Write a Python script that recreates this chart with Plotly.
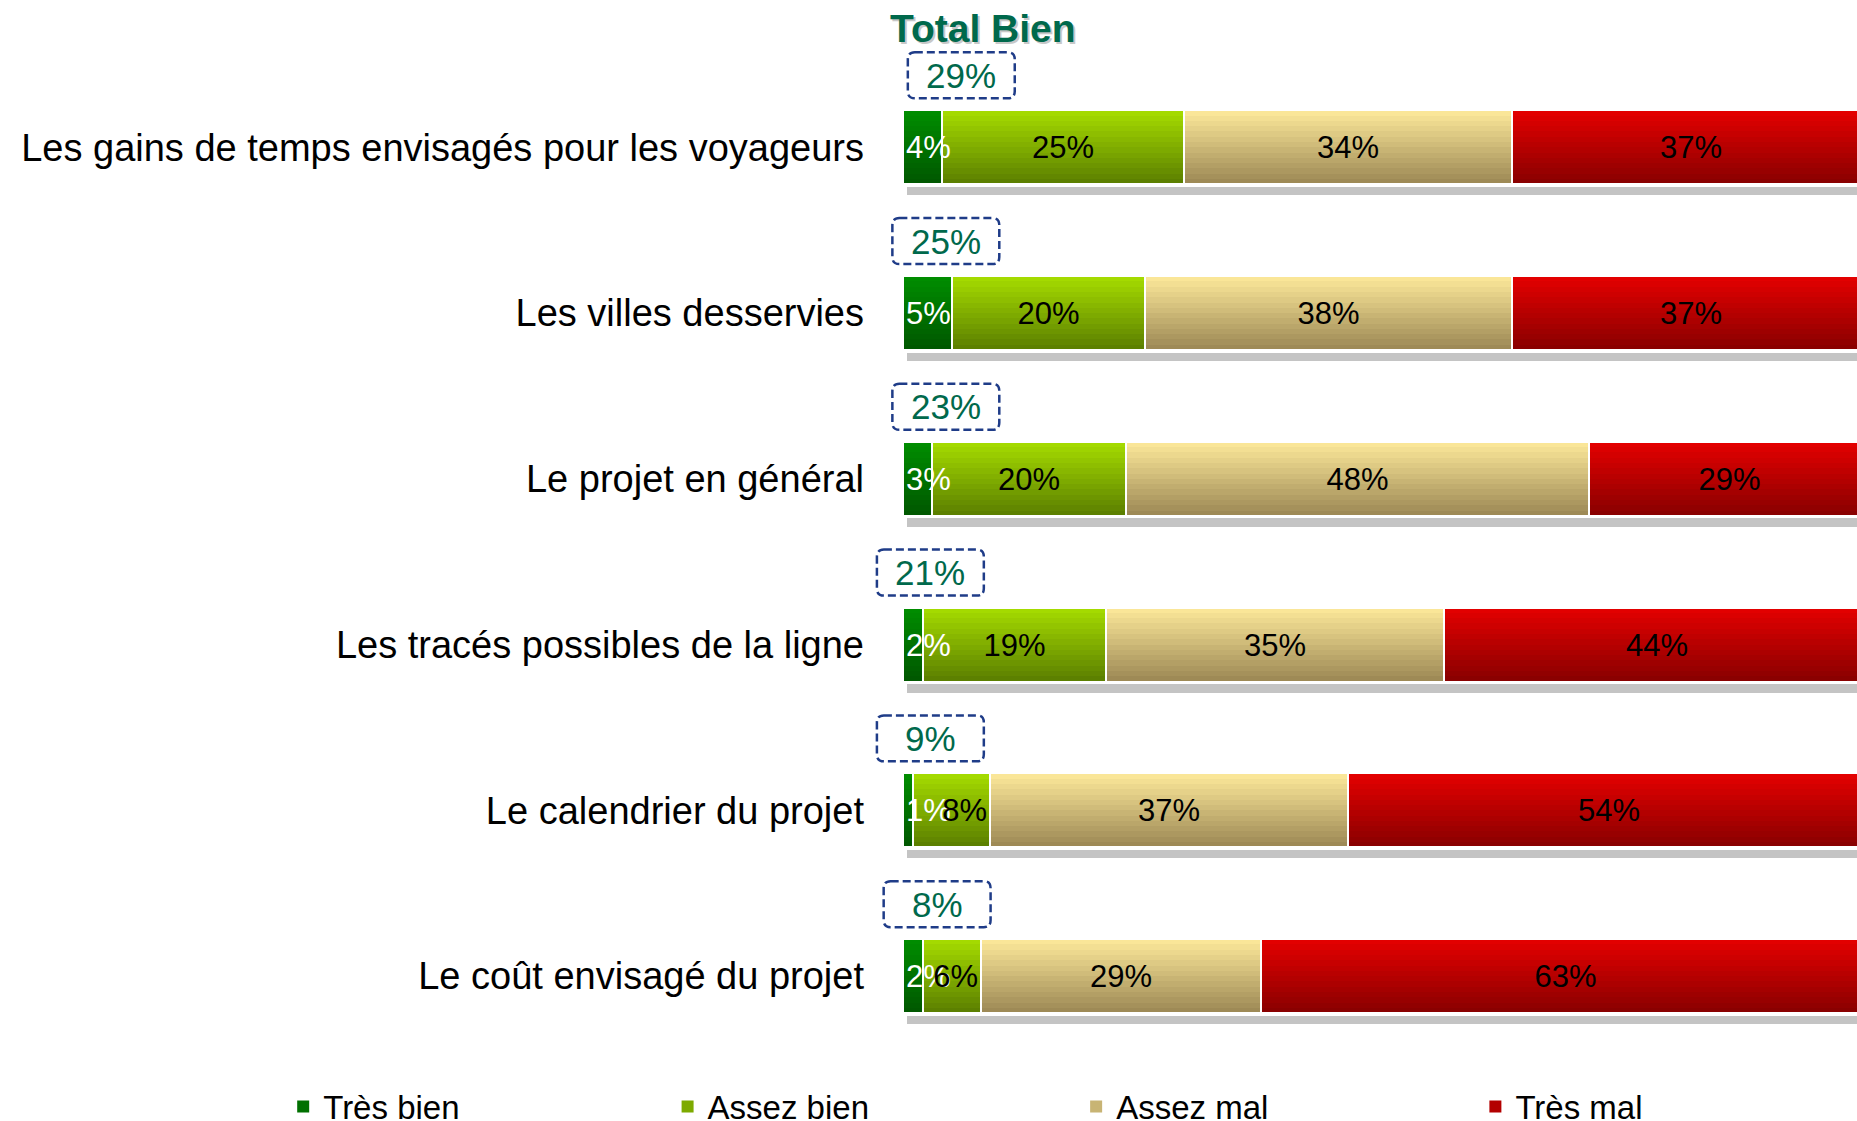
import plotly.graph_objects as go

categories = [
    "Les gains de temps envisagés pour les voyageurs",
    "Les villes desservies",
    "Le projet en général",
    "Les tracés possibles de la ligne",
    "Le calendrier du projet",
    "Le coût envisagé du projet",
]
series_names = ["Très bien", "Assez bien", "Assez mal", "Très mal"]
tres_bien = [4, 5, 3, 2, 1, 2]
assez_bien = [25, 20, 20, 19, 8, 6]
assez_mal = [34, 38, 48, 35, 37, 29]
tres_mal = [37, 37, 29, 44, 54, 63]
total_bien = [29, 25, 23, 21, 9, 8]

# style: gradient (top colour, bottom colour) and label colour per series
grad_top = [(0, 140, 0), (164, 218, 0), (250, 230, 152), (226, 0, 0)]
grad_bot = [(0, 88, 0), (92, 128, 0), (158, 138, 86), (138, 0, 0)]
label_col = ["white", "black", "black", "black"]
box_x = [6.0, 4.4, 4.4, 2.8, 2.8, 3.5]   # x position of the "Total Bien" boxes
legend_x = [0.1525, 0.3595, 0.5795, 0.7945]

BAR_W = 0.446
N_STRIPS = 14
FONT = "Liberation Sans"
PX_Y = 165.8   # pixels per category row
PX_X = 9.67    # pixels per percent
X_RANGE = [-5, 98.7]
Y_RANGE = [5.5, -0.75]
BAR_LEFT = 903  # pixel where 0 % sits


def mix(c1, c2, t):
    return "rgb(%d,%d,%d)" % tuple(round(a + (b - a) * t) for a, b in zip(c1, c2))


fig = go.Figure()

# grey shadow under each bar
fig.add_trace(go.Bar(
    y=categories, x=[100] * len(categories), base=0.4, orientation="h",
    width=0.05, offset=BAR_W / 2 + 0.016,
    marker=dict(color="#c4c4c4", line=dict(width=0)),
    showlegend=False, hoverinfo="skip",
))

values = [tres_bien, assez_bien, assez_mal, tres_mal]
bases = []
run = [0] * len(categories)
for vals in values:
    bases.append(run[:])
    run = [r + v for r, v in zip(run, vals)]

step = BAR_W / N_STRIPS
for s, vals in enumerate(values):
    leg = "legend" if s == 0 else "legend%d" % (s + 1)
    # gradient made of strips, each one running from its top to the bar bottom
    for k in range(N_STRIPS):
        t = k / (N_STRIPS - 1)
        fig.add_trace(go.Bar(
            y=categories, x=vals, base=bases[s], orientation="h",
            width=BAR_W - k * step, offset=-BAR_W / 2 + k * step,
            marker=dict(color=mix(grad_top[s], grad_bot[s], t), line=dict(width=0)),
            name=series_names[s], legendgroup=series_names[s], legend=leg,
            showlegend=(k == N_STRIPS // 2), hoverinfo="skip",
        ))

# outlines + labels (narrow "Assez bien" labels sit at the segment end)
for s, vals in enumerate(values):
    groups = [("start" if s == 0 else "middle", [True] * len(vals))]
    if s == 1:
        groups = [("middle", [v >= 10 for v in vals]), ("end", [v < 10 for v in vals])]
    for anchor, keep in groups:
        fig.add_trace(go.Bar(
            y=categories, x=vals, base=bases[s], orientation="h",
            width=BAR_W, offset=-BAR_W / 2,
            marker=dict(color="rgba(0,0,0,0)", line=dict(color="white", width=2)),
            text=["%d%%" % v if kp else "" for v, kp in zip(vals, keep)],
            textposition="inside", textangle=0, insidetextanchor=anchor,
            insidetextfont=dict(family=FONT, size=31, color=label_col[s]),
            showlegend=False, name=series_names[s], hoverinfo="skip",
        ))

# dashed rounded boxes with the "Total Bien" values
hw, hh, r = 53.5 / PX_X, 23 / PX_Y, 7
rx, ry = r / PX_X, r / PX_Y
for i, tb in enumerate(total_bien):
    cx, cy = box_x[i], i - 72 / PX_Y
    x0, x1, y0, y1 = cx - hw, cx + hw, cy - hh, cy + hh
    path = (f"M {x0 + rx},{y0} L {x1 - rx},{y0} Q {x1},{y0} {x1},{y0 + ry} "
            f"L {x1},{y1 - ry} Q {x1},{y1} {x1 - rx},{y1} L {x0 + rx},{y1} "
            f"Q {x0},{y1} {x0},{y1 - ry} L {x0},{y0 + ry} Q {x0},{y0} {x0 + rx},{y0} Z")
    fig.add_shape(type="path", xref="x", yref="y", path=path,
                  line=dict(color="#1f3c88", width=2.5, dash="8px,4px"))
    fig.add_annotation(
        x=cx, y=cy, xref="x", yref="y", text="%d%%" % tb,
        showarrow=False, xanchor="center", yanchor="middle",
        font=dict(family=FONT, size=35, color="#00694c"),
    )

# title with a soft shadow
for dx, col in [(2, "#c8c8c8"), (0, "#00694c")]:
    fig.add_annotation(
        x=8.2, y=-0.717, xref="x", yref="y", text="<b>Total Bien</b>",
        showarrow=False, xshift=dx, yshift=-dx, xanchor="center", yanchor="middle",
        font=dict(family=FONT, size=39, color=col),
    )

plot_left = BAR_LEFT + X_RANGE[0] * PX_X
plot_top = 147 + (Y_RANGE[1]) * PX_Y
plot_h = (Y_RANGE[0] - Y_RANGE[1]) * PX_Y

legend_style = dict(
    orientation="h", xref="container", yref="container",
    y=0.013, xanchor="left", yanchor="middle",
    font=dict(family=FONT, size=33, color="black"),
    bgcolor="rgba(0,0,0,0)",
)
fig.update_layout(
    width=1857, height=1121,
    margin=dict(l=plot_left, r=0, t=plot_top, b=1121 - plot_top - plot_h, autoexpand=False),
    paper_bgcolor="white", plot_bgcolor="white",
    barmode="overlay", bargap=0,
    uniformtext=dict(mode="show", minsize=31),
    font=dict(family=FONT, color="black"),
    showlegend=True,
    legend=dict(x=legend_x[0], **legend_style),
    legend2=dict(x=legend_x[1], **legend_style),
    legend3=dict(x=legend_x[2], **legend_style),
    legend4=dict(x=legend_x[3], **legend_style),
    xaxis=dict(range=X_RANGE, visible=False, fixedrange=True, automargin=False),
    yaxis=dict(
        categoryorder="array", categoryarray=categories, automargin=False,
        range=Y_RANGE, showgrid=False, zeroline=False, showline=False,
        # labels end ~41px left of the bars, which start inside the plot area
        ticks="", ticklabelstandoff=round(38 + X_RANGE[0] * PX_X),
        tickfont=dict(family=FONT, size=38, color="black"), fixedrange=True,
    ),
)

fig.write_html("out.html", config={"displayModeBar": False},
               post_script="document.body.style.margin='0';document.body.style.overflow='hidden';")
